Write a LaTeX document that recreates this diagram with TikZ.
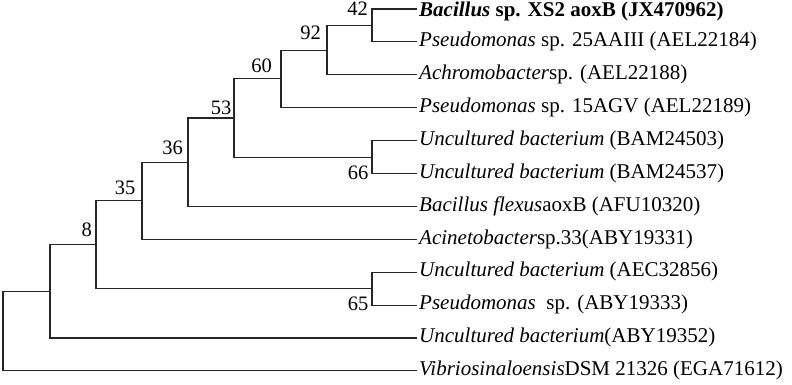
\documentclass[tikz,border=0pt]{standalone}
\usepackage{fontspec}
\setmainfont{Liberation Serif}
\usetikzlibrary{positioning}

\begin{document}
\begin{tikzpicture}[
  x=1pt, y=-1pt,
  branch/.style={line width=1.1pt, black!85},
  taxon/.style={anchor=west, inner xsep=2pt, inner ysep=0pt, text height=14pt, text depth=4.5pt, font=\fontsize{21}{24}\selectfont},
  boot/.style={inner sep=0pt, font=\fontsize{20.5}{24}\selectfont}
]
\useasboundingbox (0,0) rectangle (792,384);

% taxa
\node[taxon, text height=15pt, text depth=0pt] (t1) at (417,9) {\textbf{\textit{Bacillus} sp. XS2 aoxB (JX470962)}};
\node[taxon] (t2)  at (417,41.9)  {\textit{Pseudomonas} sp. 25AAIII (AEL22184)};
\node[taxon] (t3)  at (417,74.8)  {\textit{Achromobacter}sp. (AEL22188)};
\node[taxon] (t4)  at (417,107.7) {\textit{Pseudomonas} sp. 15AGV (AEL22189)};
\node[taxon] (t5)  at (417,140.6) {\textit{Uncultured bacterium} (BAM24503)};
\node[taxon] (t6)  at (417,173.5) {\textit{Uncultured bacterium} (BAM24537)};
\node[taxon] (t7)  at (417,206.4) {\textit{Bacillus flexus}aoxB (AFU10320)};
\node[taxon] (t8)  at (417,239.3) {\textit{Acinetobacter}sp.33(ABY19331)};
\node[taxon] (t9)  at (417,272.2) {\textit{Uncultured bacterium} (AEC32856)};
\node[taxon] (t10) at (417,305.1) {\textit{Pseudomonas}\ \ sp. (ABY19333)};
\node[taxon] (t11) at (417,338)   {\textit{Uncultured bacterium}(ABY19352)};
\node[taxon] (t12) at (417,370.9) {\textit{Vibriosinaloensis}DSM 21326 (EGA71612)};

% internal nodes
\coordinate (n42)  at (372,25.45);
\coordinate (n92)  at (327,50.1);
\coordinate (n60)  at (281,78.9);
\coordinate (n66)  at (372,157.05);
\coordinate (n53)  at (234,118);
\coordinate (n36)  at (188,162.2);
\coordinate (n35)  at (142,200.75);
\coordinate (n65)  at (372,288.65);
\coordinate (n8)   at (96,244.7);
\coordinate (nA)   at (50,291.35);
\coordinate (root) at (3,331.1);

% branches
\draw[branch] (root) |- (nA);
\draw[branch] (root) |- (t12.west);
\draw[branch] (nA) |- (n8);
\draw[branch] (nA) |- (t11.west);
\draw[branch] (n8) |- (n35);
\draw[branch] (n8) |- (n65);
\draw[branch] (n35) |- (n36);
\draw[branch] (n35) |- (t8.west);
\draw[branch] (n36) |- (n53);
\draw[branch] (n36) |- (t7.west);
\draw[branch] (n53) |- (n60);
\draw[branch] (n53) |- (n66);
\draw[branch] (n60) |- (n92);
\draw[branch] (n60) |- (t4.west);
\draw[branch] (n92) |- (n42);
\draw[branch] (n92) |- (t3.west);
\draw[branch] (n42) |- (t1.west);
\draw[branch] (n42) |- (t2.west);
\draw[branch] (n66) |- (t5.west);
\draw[branch] (n66) |- (t6.west);
\draw[branch] (n65) |- (t9.west);
\draw[branch] (n65) |- (t10.west);

% bootstrap values
\node[boot] (b42) at (357.5,8.5)  {42};
\node[boot] (b92) at (310.5,33)   {92};
\node[boot] (b60) at (261.7,66)   {60};
\node[boot] (b53) at (221,108)    {53};
\node[boot] (b36) at (172.7,148.3) {36};
\node[boot] (b35) at (125,188.3)  {35};
\node[boot] (b8)  at (86.7,230)   {8};
\node[boot] (b66) at (358,173.3)  {66};
\node[boot] (b65) at (358,303.7)  {65};
\end{tikzpicture}
\end{document}
